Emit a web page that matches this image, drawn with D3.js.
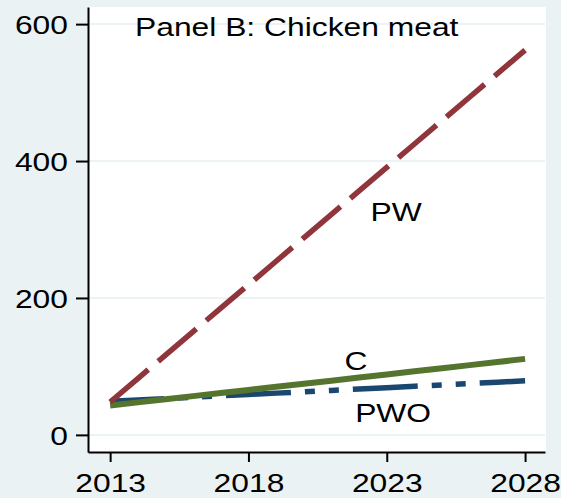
<!DOCTYPE html>
<html>
<head>
<meta charset="utf-8">
<script src="https://cdn.jsdelivr.net/npm/d3@7"></script>
<style>
  body { margin: 0; background: #eaf2f3; }
  text { font-family: "Liberation Sans", Arial, sans-serif; }
</style>
</head>
<body>
<svg></svg>
<script>
var width = 561;
var height = 498;

var years = [2013, 2014, 2015, 2016, 2017, 2018, 2019, 2020, 2021, 2022, 2023, 2024, 2025, 2026, 2027, 2028];
var pw  = [48, 82.3, 116.5, 150.8, 185.1, 219.3, 253.6, 287.9, 322.1, 356.4, 390.7, 424.9, 459.2, 493.5, 527.7, 562];
var c   = [43, 47.5, 52.1, 56.6, 61.1, 65.7, 70.2, 74.7, 79.2, 83.8, 88.3, 92.8, 97.4, 101.9, 106.4, 111];
var pwo = [49, 51, 53, 55, 57, 59, 61, 63, 65, 67, 69, 71, 73, 75, 77, 79];
var xTicks = [2013, 2018, 2023, 2028];
var yTicks = [0, 200, 400, 600];
var title = "Panel B: Chicken meat";

var sx = 1.2; // text is stretched sideways in the original
var fs = 26.5;

var svg = d3.select("svg")
            .attr("width", width)
            .attr("height", height);

svg.append("rect")
  .attr("width", width).attr("height", height)
  .attr("fill", "#eaf2f3");

// plot box (window.top is reserved, so no "top")
var pLeft = 88, pRight = 545, pTop = 7, pBottom = 452;

var xScale = d3.scaleLinear()
               .domain([2012.2, 2028.72])
               .range([pLeft, pRight]);

var yScale = d3.scaleLinear()
               .domain([-25, 625])
               .range([pBottom, pTop]);

svg.append("rect")
  .attr("x", pLeft).attr("y", pTop)
  .attr("width", pRight - pLeft + 1).attr("height", pBottom - pTop)
  .attr("fill", "#ffffff");

// grid
svg.selectAll("line.grid")
  .data(yTicks)
  .enter()
  .append("line")
  .attr("class", "grid")
  .attr("x1", pLeft).attr("x2", pRight)
  .attr("y1", function(d) { return yScale(d); })
  .attr("y2", function(d) { return yScale(d); })
  .attr("stroke", "#e6eff2")
  .attr("stroke-width", 1.5);

function series(values) {
  return years.map(function(y, i) { return [y, values[i]]; });
}

var line = d3.line()
  .x(function(d) { return xScale(d[0]); })
  .y(function(d) { return yScale(d[1]); });

svg.append("path")
  .datum(series(pwo))
  .attr("d", line)
  .attr("fill", "none")
  .attr("stroke", "#1a476f")
  .attr("stroke-width", 5.5)
  .attr("stroke-dasharray", "65,14,10,14,10,14")
  .attr("stroke-dashoffset", 11);

svg.append("path")
  .datum(series(c))
  .attr("d", line)
  .attr("fill", "none")
  .attr("stroke", "#55752f")
  .attr("stroke-width", 6);

svg.append("path")
  .datum(series(pw))
  .attr("d", line)
  .attr("fill", "none")
  .attr("stroke", "#90353b")
  .attr("stroke-width", 5.5)
  .attr("stroke-dasharray", "50,13");

// axes
var yAxis = svg.append("g")
  .attr("transform", "translate(" + pLeft + ",0)")
  .call(d3.axisLeft(yScale).tickValues(yTicks).tickSize(12).tickSizeOuter(0).tickPadding(8));

var xAxis = svg.append("g")
  .attr("transform", "translate(0," + pBottom + ")")
  .call(d3.axisBottom(xScale).tickValues(xTicks).tickFormat(d3.format("d")).tickSize(10).tickSizeOuter(0).tickPadding(11));

[yAxis, xAxis].forEach(function(g) {
  g.select(".domain").attr("stroke", "#000").attr("stroke-width", 2);
  g.selectAll(".tick line").attr("stroke", "#000").attr("stroke-width", 2);
  g.selectAll(".tick text")
    .attr("fill", "#000")
    .style("font-size", fs + "px")
    .attr("font-family", null);
});

yAxis.selectAll(".tick text")
  .attr("x", -20 / sx)
  .attr("dy", "0.36em")
  .attr("transform", "scale(" + sx + ",1)");

xAxis.selectAll(".tick text")
  .attr("transform", "scale(" + sx + ",1)");

// title and series labels
function label(txt, x, y, anchor) {
  svg.append("text")
    .attr("transform", "translate(" + x + "," + y + ") scale(" + sx + ",1)")
    .attr("text-anchor", anchor)
    .style("font-size", fs + "px")
    .attr("fill", "#000")
    .text(txt);
}

label(title, 135, 36, "start");
label("PW", xScale(2023.34), yScale(312), "middle");
label("C", xScale(2021.89), yScale(95), "middle");
label("PWO", xScale(2023.23), yScale(19), "middle");
</script>
</body>
</html>
